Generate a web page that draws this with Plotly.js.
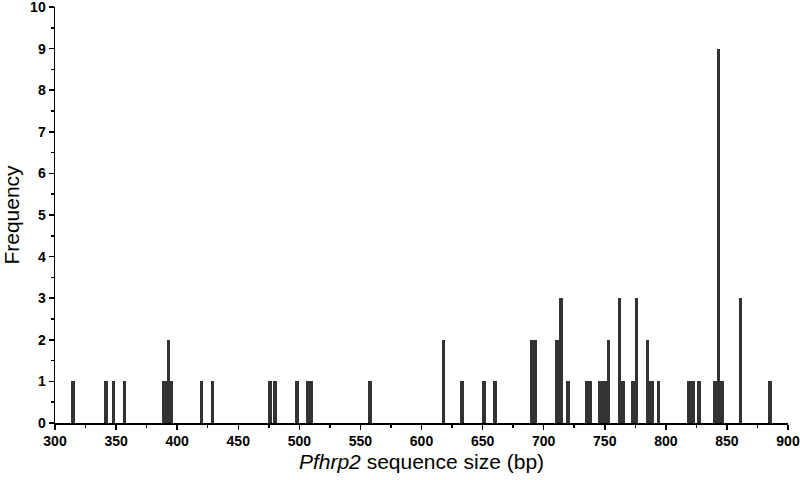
<!DOCTYPE html>
<html>
<head>
<meta charset="utf-8">
<script src="https://cdn.plot.ly/plotly-3.0.1.min.js"></script>
<style>html,body{margin:0;padding:0;background:#fff;}#chart{width:800px;height:480px;}</style>
</head>
<body>
<div id="chart"></div>
<script>
// Sequence sizes (bp) and their frequencies
const sizes = [315, 342, 348, 357, 389, 391, 393, 395, 420, 429,
               476, 480, 498, 507, 510, 558,
               618, 633, 651, 660, 690, 693, 711, 714, 720, 735, 738,
               746, 749, 751, 753, 762, 765, 773, 776, 785, 787, 789, 794,
               819, 822, 827, 840, 843, 846, 861, 885];
const freqs = [1, 1, 1, 1, 1, 1, 2, 1, 1, 1,
               1, 1, 1, 1, 1, 1,
               2, 1, 1, 1, 2, 2, 2, 3, 1, 1, 1,
               1, 1, 1, 2, 3, 1, 1, 3, 2, 1, 1, 1,
               1, 1, 1, 1, 9, 1, 3, 1];
const xTicks = [300, 350, 400, 450, 500, 550, 600, 650, 700, 750, 800, 850, 900];
const yTicks = [0, 1, 2, 3, 4, 5, 6, 7, 8, 9, 10];

const trace = {
  type: 'bar',
  x: sizes,
  y: freqs,
  width: 3,
  marker: {color: '#333333', line: {width: 0}},
  hoverinfo: 'x+y'
};

const tickFont = {family: 'Liberation Sans, Arial, sans-serif', size: 14, color: '#000', weight: 'bold'};
const titleFont = {family: 'Liberation Sans, Arial, sans-serif', size: 21, color: '#000'};
const layout = {
  width: 800, height: 480,
  margin: {l: 55, r: 12, t: 7, b: 57},
  paper_bgcolor: '#fff', plot_bgcolor: '#fff',
  showlegend: false,
  bargap: 0,
  xaxis: {
    range: [300, 900],
    tickvals: xTicks,
    ticktext: xTicks.map(String),
    ticks: 'outside', ticklen: 5, tickwidth: 1.5, tickcolor: '#000',
    minor: {dtick: 25, ticks: 'outside', ticklen: 3, tickwidth: 1.5, tickcolor: '#000', showgrid: false},
    showline: true, linecolor: '#000', linewidth: 1.5,
    showgrid: false, zeroline: false,
    tickfont: tickFont,
    ticklabeloverflow: 'allow',
    title: {text: '<i>Pfhrp2</i> sequence size (bp)', font: titleFont, standoff: 6}
  },
  yaxis: {
    range: [0, 10],
    tickvals: yTicks,
    ticktext: yTicks.map(String),
    ticks: 'outside', ticklen: 5, tickwidth: 1.5, tickcolor: '#000',
    minor: {dtick: 0.5, ticks: 'outside', ticklen: 3, tickwidth: 1.5, tickcolor: '#000', showgrid: false},
    showline: true, linecolor: '#000', linewidth: 1.5,
    showgrid: false, zeroline: false,
    tickfont: tickFont,
    ticklabeloverflow: 'allow',
    title: {text: 'Frequency', font: titleFont, standoff: 13}
  }
};

Plotly.newPlot('chart', [trace], layout, {displayModeBar: false, staticPlot: true});
</script>
</body>
</html>
